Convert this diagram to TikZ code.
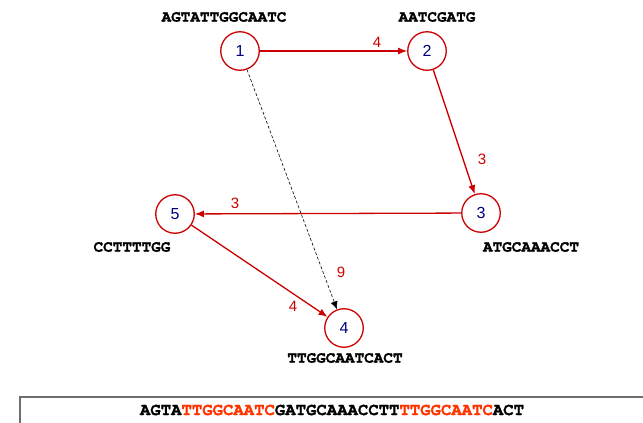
\documentclass[tikz,border=0pt]{standalone}
\usepackage{fontspec}
\setmainfont{Liberation Sans}
\newfontfamily\seqfont{TeX Gyre Cursor}[BoldFeatures={FakeBold=1.5}]
\usetikzlibrary{arrows.meta}
\definecolor{edgered}{RGB}{204,0,0}
\definecolor{numblue}{RGB}{0,0,128}
\definecolor{overlap}{RGB}{255,51,0}
\definecolor{boxgray}{RGB}{110,110,110}
\begin{document}
\begin{tikzpicture}[x=1pt,y=-1pt,
  vert/.style={circle,draw=edgered,line width=1.3pt,minimum size=38.5pt,inner sep=0pt,
    text=numblue,font=\fontsize{16}{16}\selectfont},
  seq/.style={font=\seqfont\bfseries\fontsize{16}{16}\selectfont,inner sep=0pt},
  wedge/.style={draw=edgered,line width=1.3pt,-{Latex[length=9pt,width=7pt]}},
  wlabel/.style={text=edgered,font=\fontsize{15}{15}\selectfont,inner sep=0pt}]
\useasboundingbox (0,0) rectangle (643,423);
\clip (0,0) rectangle (643,423);

% overlap graph vertices
\node[vert] (v1) at (240,51) {1};
\node[vert] (v2) at (427,51) {2};
\node[vert] (v3) at (481,213) {3};
\node[vert] (v5) at (175,214) {5};
\node[vert] (v4) at (344,328) {4};

% reads attached to each vertex
\node[seq] (s1) at (224,17) {AGTATTGGCAATC};
\node[seq] (s2) at (437,17) {AATCGATG};
\node[seq] (s3) at (531,247) {ATGCAAACCT};
\node[seq] (s5) at (132,247) {CCTTTTGG};
\node[seq] (s4) at (345,358) {TTGGCAATCACT};

% weighted overlap edges
\draw[wedge] (v1) -- (v2);
\draw[wedge] (v2) -- (v3);
\draw[wedge] (v3) -- (v5);
\draw[wedge] (v5) -- (v4);
\draw[black,line width=0.6pt,dash pattern=on 3pt off 2pt,-{Latex[length=8pt,width=7pt]}] (v1) -- (v4);

\node[wlabel] (w12) at (377,42) {4};
\node[wlabel] (w23) at (482,159) {3};
\node[wlabel] (w35) at (235,203) {3};
\node[wlabel] (w14) at (341,272) {9};
\node[wlabel] (w54) at (293,306) {4};

% assembled sequence
\draw[boxgray,line width=1.1pt] (20,440) -- (20,397) -- (660,397);
\node[seq,font=\seqfont\bfseries\fontsize{17.3}{17.3}\selectfont] (asm) at (332,410) {AGTA\textcolor{overlap}{TTGGCAATC}GATGCAAACCTT\textcolor{overlap}{TTGGCAATC}ACT};
\end{tikzpicture}
\end{document}
